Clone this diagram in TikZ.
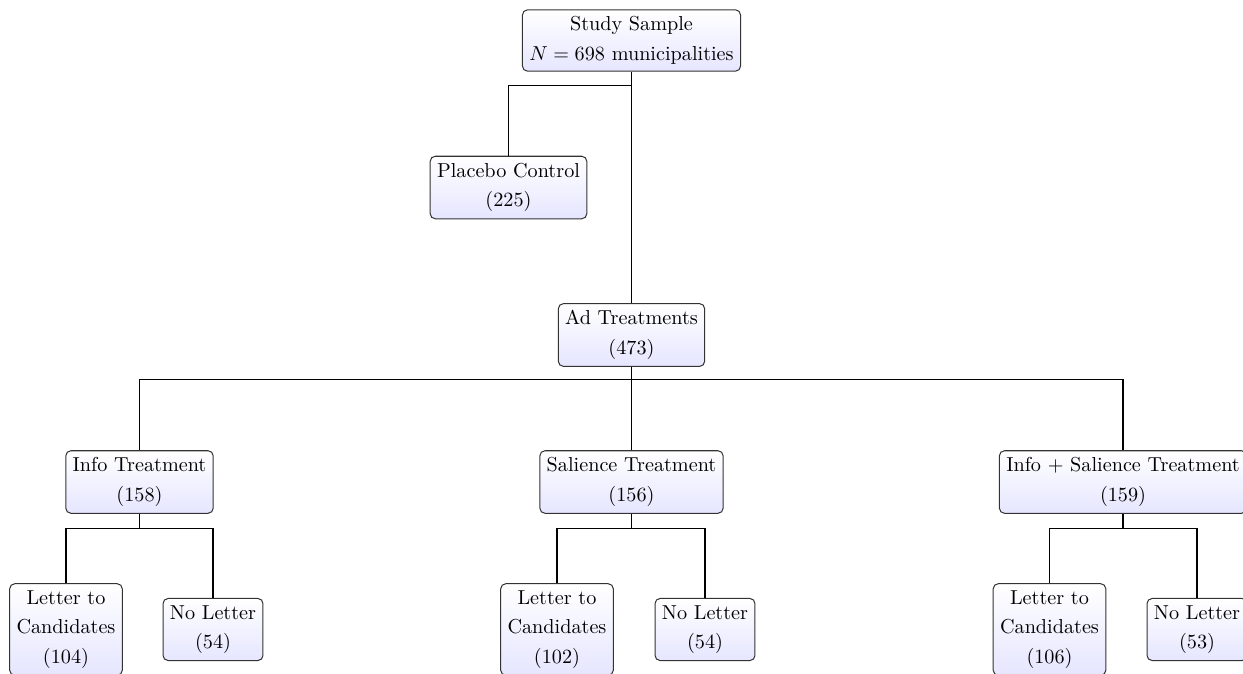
\documentclass[tikz,border=0pt]{standalone}
\usetikzlibrary{calc}
\begin{document}
\begin{tikzpicture}[x=0.495pt,y=-0.495pt,
  box/.style={draw=black!80, line width=0.5pt, rounded corners=2.5pt, top color=white, bottom color=blue!10,
    align=center, inner sep=3.4pt, font=\fontsize{10pt}{14.6pt}\selectfont},
  link/.style={draw=black, line width=0.6pt}]
\useasboundingbox (0,0) rectangle (1243,673);
\clip (0,0) rectangle (1243,673);
\node[box] (root) at (631.5,40.5) {Study Sample\\$N = 698$ municipalities};
\node[box] (pla) at (508.5,187.5) {Placebo Control\\(225)};
\node[box] (ad) at (631.5,335) {Ad Treatments\\(473)};
\node[box] (info) at (139.5,482) {Info Treatment\\(158)};
\node[box] (sal) at (631.5,482) {Salience Treatment\\(156)};
\node[box] (both) at (1123,482) {Info + Salience Treatment\\(159)};
\node[box] (l1) at (66,629.5) {Letter to\\Candidates\\(104)};
\node[box] (n1) at (213,629.5) {No Letter\\(54)};
\node[box] (l2) at (557,629.5) {Letter to\\Candidates\\(102)};
\node[box] (n2) at (705,629.5) {No Letter\\(54)};
\node[box] (l3) at (1049.5,629.5) {Letter to\\Candidates\\(106)};
\node[box] (n3) at (1197,629.5) {No Letter\\(53)};
\draw[link] (root.south) -- ($(root.south)+(0,14)$) -| (pla.north);
\draw[link] (root.south) -- (ad.north);
\foreach \c in {info,sal,both}{
  \draw[link] (ad.south) -- ($(ad.south)+(0,13)$) -| (\c.north);
}
\foreach \p/\a/\b in {info/l1/n1, sal/l2/n2, both/l3/n3}{
  \draw[link] (\p.south) -- ($(\p.south)+(0,15)$) -| (\a.north);
  \draw[link] (\p.south) -- ($(\p.south)+(0,15)$) -| (\b.north);
}
\end{tikzpicture}
\end{document}
